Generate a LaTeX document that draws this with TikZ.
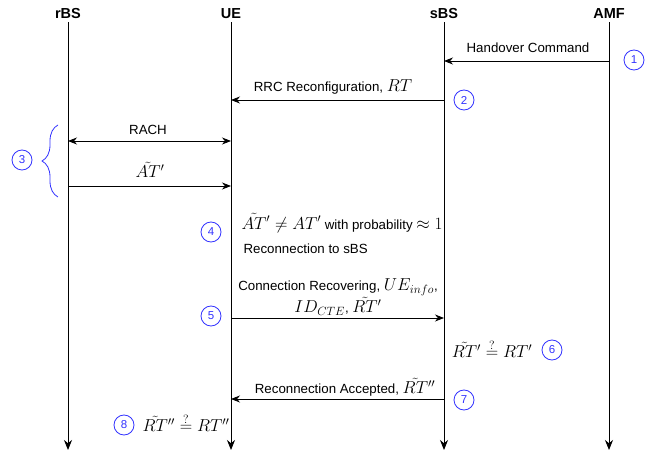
\documentclass[tikz,border=0pt]{standalone}
\usepackage[no-math]{fontspec}
\setmainfont{Liberation Sans}
\usetikzlibrary{arrows.meta,decorations.pathreplacing}
\definecolor{numblue}{RGB}{51,51,255}
\newcommand{\bigmath}[1]{{\fontsize{17.28}{20}\selectfont$#1$}}

\begin{document}
\begin{tikzpicture}[x=1pt,y=-1pt,
    font=\fontsize{13.3}{19}\selectfont,
    actor/.style ={font=\fontsize{14.5}{15}\selectfont\bfseries, inner sep=3pt},
    life/.style ={-{Stealth[length=10pt,width=8pt]}, line width=0.9pt},
    msg/.style ={-{Stealth[length=9pt,width=7pt]}, line width=0.8pt},
    numcirc/.style ={circle, draw=numblue, text=numblue, line width=0.8pt,
      minimum size=20pt, inner sep=0pt, font=\fontsize{11.5}{11.5}\selectfont}]
   \useasboundingbox (0,0) rectangle (665,457);

   % lifelines
   \node[actor] (rBS) at (68,14)  {rBS};
   \node[actor] (UE)  at (231,14) {UE};
   \node[actor] (sBS) at (444,14) {sBS};
   \node[actor] (AMF) at (609,14) {AMF};
   \coordinate (bot) at (0,450);
   \draw[life] (rBS) -- (rBS |- bot);
   \draw[life] (UE) -- (UE |- bot);
   \draw[life] (sBS) -- (sBS |- bot);
   \draw[life] (AMF) -- (AMF |- bot);

   % message levels
   \coordinate (y1) at (0,61);
   \coordinate (y2) at (0,100);
   \coordinate (y3) at (0,141);
   \coordinate (y4) at (0,186);
   \coordinate (y5) at (0,318);
   \coordinate (y7) at (0,399);

   % 1 + 2
   \draw[msg] (AMF |- y1) -- (sBS |- y1);
   \node (lHo) at (528,48) {Handover Command};
   \node[numcirc] (n1) at (634,60) {1};
   \draw[msg] (sBS |- y2) -- (UE |- y2);
   \node (lRrc) at (333,87) {RRC Reconfiguration, \bigmath{RT}};
   \node[numcirc] (n2) at (464,100) {2};

   % 3
   \draw[{Stealth[length=9pt,width=7pt]}-{Stealth[length=9pt,width=7pt]}, line width=0.8pt] (rBS |- y3) -- (UE |- y3);
   \node (lRach) at (148,130) {RACH};
   \draw[msg] (rBS |- y4) -- (UE |- y4);
   \node (lAt) at (150,170) {\bigmath{\tilde{AT}{}'}};
   \draw[numblue, line width=0.8pt, decorate, decoration={brace, amplitude=16pt}]
     (58,197) -- (58,125);
   \node[numcirc] (n3) at (22,160) {3};

   % 4
   \node[numcirc] (n4) at (211,232) {4};
   \node[anchor=west] (t4a) at (238,223) {\bigmath{\tilde{AT}{}' \neq AT'} with probability \bigmath{\approx 1}};
   \node[anchor=west] (t4b) at (240,249) {Reconnection to sBS};

   % 5
   \node[numcirc] (n5) at (211,316) {5};
   \node[align=center] (t5) at (338,297) {Connection Recovering, \bigmath{UE_{info}},\\ \bigmath{ID_{CTE}}, \bigmath{\tilde{RT}{}'}};
   \draw[msg] (UE |- y5) -- (sBS |- y5);

   % 6
   \node (t6) at (492,349) {\bigmath{\tilde{RT}{}' \stackrel{?}{=} RT'}};
   \node[numcirc] (n6) at (552,350) {6};

   % 7
   \draw[msg] (sBS |- y7) -- (UE |- y7);
   \node (lAcc) at (345,387) {Reconnection Accepted, \bigmath{\tilde{RT}{}''}};
   \node[numcirc] (n7) at (464,400) {7};

   % 8
   \node[numcirc] (n8) at (124,425) {8};
   \node (t8) at (186,423) {\bigmath{\tilde{RT}{}'' \stackrel{?}{=} RT''}};
 \end{tikzpicture}
\end{document}
